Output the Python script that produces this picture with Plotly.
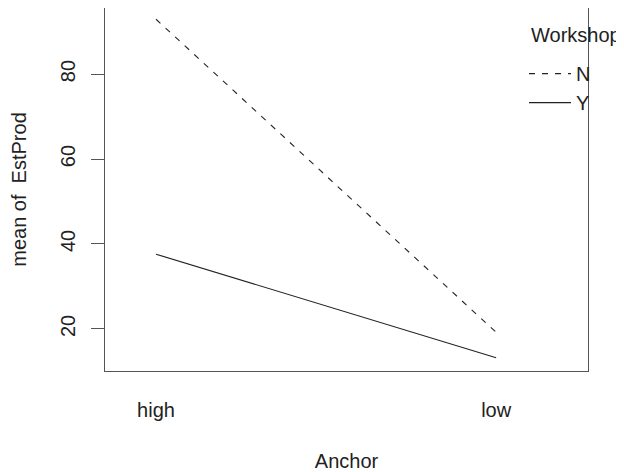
import plotly.graph_objects as go

anchor_levels = ["high", "low"]
anchor_pos = [1, 2]
workshop_N = [92.9, 19.2]
workshop_Y = [37.6, 13.2]
y_ticks = [20, 40, 60, 80]

FONT = "Liberation Sans, Arial, Helvetica, sans-serif"

fig = go.Figure()
fig.add_trace(go.Scatter(x=anchor_pos, y=workshop_N, mode="lines", name="N",
                         line=dict(color="#222", width=1.1, dash="6px,7px")))
fig.add_trace(go.Scatter(x=anchor_pos, y=workshop_Y, mode="lines", name="Y",
                         line=dict(color="#222", width=1.1)))

# page has an 8px body margin, so the figure is 8px smaller than the window
fig.update_layout(
    width=616, height=464,
    margin=dict(l=97, r=36, t=0, b=101),
    paper_bgcolor="white", plot_bgcolor="white",
    font=dict(family=FONT, size=20, color="#222"),
    showlegend=True,
    legend=dict(x=0.8675, y=0.873, xanchor="left", yanchor="top",
                bgcolor="rgba(0,0,0,0)", font=dict(size=20),
                tracegroupgap=0, itemwidth=42),
    xaxis=dict(range=[0.85, 2.27], tickvals=anchor_pos, ticktext=anchor_levels,
               ticks="", showgrid=False, zeroline=False,
               showline=True, linecolor="#555", linewidth=1.3, mirror=True,
               ticklabelstandoff=21,
               title=dict(text="Anchor", standoff=34, font=dict(size=20))),
    yaxis=dict(range=[10.1, 95.55], tickvals=y_ticks, ticks="outside",
               ticklen=13, tickcolor="#555", tickangle=-90,
               showgrid=False, zeroline=False,
               showline=True, linecolor="#555", linewidth=1.3, mirror=True,
               ticklabelstandoff=8,
               title=dict(text="mean of  EstProd", standoff=27, font=dict(size=20))),
)
fig.add_annotation(text="Workshop", xref="paper", yref="paper", x=0.878,
                   y=0.9256, xanchor="left", yanchor="middle",
                   showarrow=False, font=dict(size=20, family=FONT, color="#222"))

fig.write_html("out.html")
